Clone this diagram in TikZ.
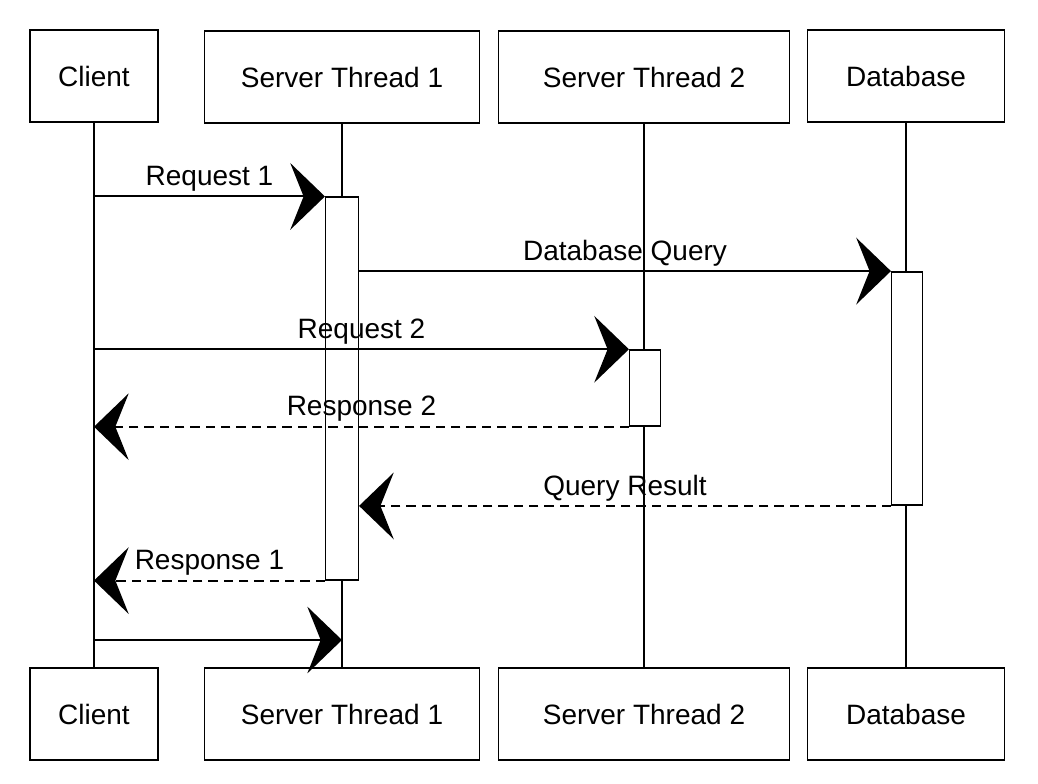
\documentclass[tikz,border=0pt]{standalone}
\usepackage{fontspec}
\setmainfont{Liberation Sans}
\usetikzlibrary{arrows.meta,calc}
\begin{document}
\begin{tikzpicture}[x=0.75pt,y=-0.75pt,
  font=\fontsize{21}{25}\selectfont,
  actor/.style={draw,line width=1.1pt,fill=white,minimum height=69pt,inner sep=0pt},
  actbox/.style={draw,line width=1.1pt,fill=white,inner sep=0pt},
  life/.style={line width=0.9pt},
  msg/.style={line width=1.6pt,-{Stealth[length=26pt,width=50pt,inset=10pt]}},
  reply/.style={msg,dash pattern=on 7pt off 4.5pt},
  lbl/.style={above=3pt,inner sep=0pt}]
\useasboundingbox (0,0) rectangle (1038,784);
% actors top
\node[actor,minimum width=96pt] (ct) at (94,76) {Client};
\node[actor,minimum width=206pt] (s1t) at (342,77) {Server Thread 1};
\node[actor,minimum width=218pt] (s2t) at (644,77) {Server Thread 2};
\node[actor,minimum width=148pt] (dbt) at (906,76) {Database};
% actors bottom
\node[actor,minimum width=96pt] (cb) at (94,714) {Client};
\node[actor,minimum width=206pt] (s1b) at (342,714) {Server Thread 1};
\node[actor,minimum width=218pt] (s2b) at (644,714) {Server Thread 2};
\node[actor,minimum width=148pt] (dbb) at (906,714) {Database};
% lifelines
\draw[life] (ct.south) -- (cb.north);
\draw[life] (s1t.south) -- (s1b.north);
\draw[life] (s2t.south) -- (s2b.north);
\draw[life] (dbt.south) -- (dbb.north);
% activations
\node[actbox,minimum width=24.5pt,minimum height=287pt] (a1) at (342,388.5) {};
\node[actbox,minimum width=23pt,minimum height=175pt] (adb) at (907,388.5) {};
\node[actbox,minimum width=23pt,minimum height=57pt] (a2) at (645,388) {};
% messages
\draw[msg] (ct.south |- a1.north) -- node[lbl] {Request 1} (a1.north west);
\draw[msg] (a1.east |- adb.north) -- node[lbl] {Database Query} (adb.north west);
\draw[msg] (ct.south |- a2.north) -- node[lbl] {Request 2} (a2.north west);
\draw[reply] (a2.south west) -- node[lbl] {Response 2} (ct.south |- a2.south);
\draw[reply] (adb.south west) -- node[lbl] {Query Result} (a1.east |- adb.south);
\draw[reply] (a1.south west) -- node[lbl] {Response 1} (ct.south |- a1.south);
\coordinate (m7) at (0,640);
\draw[msg] (ct.south |- m7) -- (s1t.south |- m7);
\end{tikzpicture}
\end{document}
